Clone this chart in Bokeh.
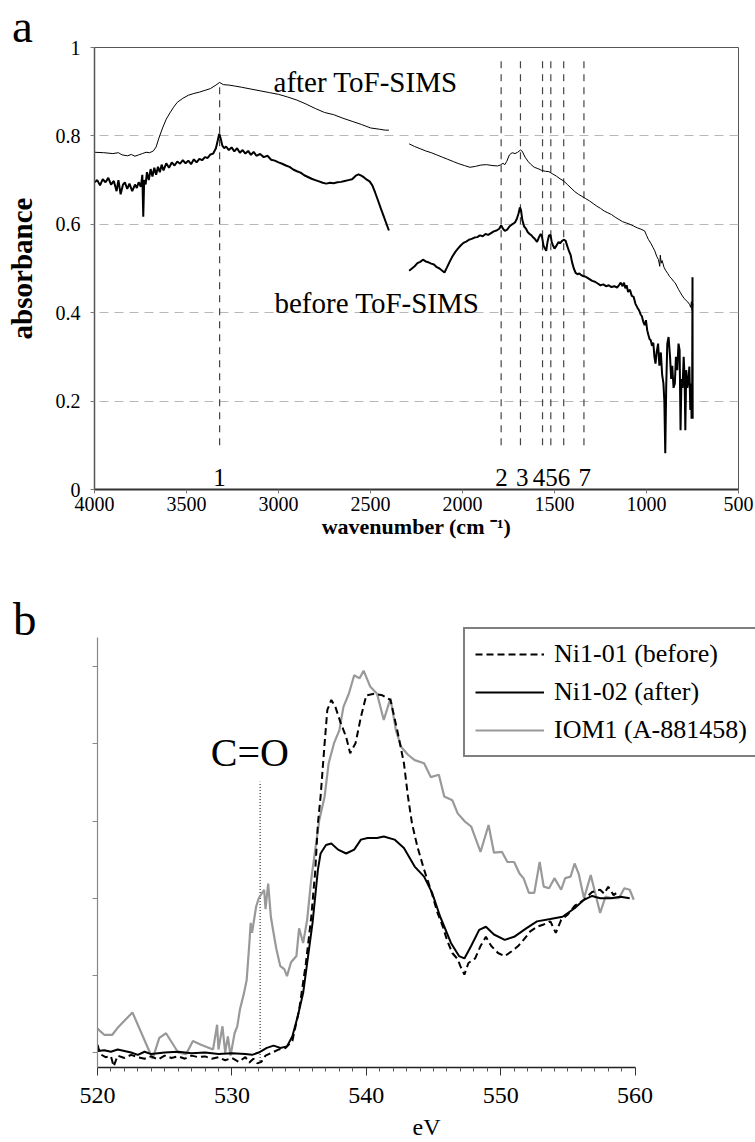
from bokeh.plotting import figure
from bokeh.models import (Range1d, FixedTicker, Label, Legend, LegendItem, Div)
from bokeh.core.properties import value
from bokeh.embed import file_html
from bokeh.resources import INLINE

FONT = "Liberation Serif"

# ---------------- panel a: IR spectra ----------------
after1_wn = [4000, 3950, 3900, 3870, 3850, 3820, 3800, 3780, 3760, 3740, 3720, 3700, 3680, 3665, 3650,
             3630, 3610, 3590, 3570, 3550, 3520, 3490, 3460, 3430, 3400, 3370, 3340, 3320, 3300, 3270,
             3240, 3200, 3150, 3100, 3050, 3000, 2950, 2900, 2850, 2800, 2750, 2700, 2650, 2600, 2550,
             2500, 2450, 2420, 2400]
after1_abs = [0.763, 0.762, 0.760, 0.762, 0.757, 0.755, 0.758, 0.754, 0.757, 0.760, 0.763, 0.762, 0.766,
              0.775, 0.795, 0.818, 0.838, 0.852, 0.865, 0.876, 0.885, 0.892, 0.896, 0.899, 0.903, 0.907,
              0.915, 0.921, 0.916, 0.915, 0.913, 0.910, 0.906, 0.902, 0.898, 0.894, 0.888, 0.881, 0.872,
              0.862, 0.853, 0.848, 0.840, 0.833, 0.826, 0.818, 0.815, 0.813, 0.813]

after2_wn = [2290, 2260, 2230, 2200, 2170, 2140, 2110, 2080, 2050, 2020, 1990, 1960, 1930, 1900, 1870,
             1840, 1810, 1795, 1780, 1770, 1760, 1745, 1730, 1715, 1700, 1685, 1675, 1660, 1645, 1630,
             1610, 1590, 1570, 1550, 1530, 1510, 1490, 1470, 1450, 1430, 1410, 1390, 1370, 1350, 1330,
             1310, 1290, 1270, 1250, 1230, 1210, 1190, 1170, 1150, 1130, 1110, 1090, 1070, 1050, 1030,
             1010, 1000, 990, 975, 965, 955, 945, 935, 928, 925, 920, 915, 905, 895, 885, 875, 865, 855,
             845, 835, 825, 815, 805, 795, 785, 775, 765, 760, 756, 752, 748]
after2_abs = [0.782, 0.776, 0.771, 0.766, 0.762, 0.757, 0.752, 0.747, 0.742, 0.737, 0.733, 0.729, 0.731,
              0.734, 0.735, 0.733, 0.732, 0.734, 0.738, 0.735, 0.742, 0.757, 0.762, 0.760, 0.763, 0.768,
              0.765, 0.752, 0.743, 0.736, 0.729, 0.726, 0.722, 0.720, 0.719, 0.714, 0.709, 0.703, 0.698,
              0.690, 0.682, 0.674, 0.668, 0.663, 0.658, 0.653, 0.647, 0.641, 0.636, 0.630, 0.626, 0.622,
              0.616, 0.611, 0.606, 0.603, 0.600, 0.596, 0.592, 0.589, 0.585, 0.575, 0.566, 0.556, 0.548,
              0.540, 0.528, 0.520, 0.505, 0.530, 0.512, 0.518, 0.503, 0.495, 0.489, 0.482, 0.478, 0.472,
              0.468, 0.460, 0.452, 0.445, 0.438, 0.432, 0.428, 0.424, 0.418, 0.412, 0.425, 0.405, 0.420]

before1_wn = [4000, 3985, 3970, 3955, 3940, 3925, 3910, 3895, 3880, 3870, 3858, 3845, 3835, 3822, 3810,
              3795, 3780, 3770, 3760, 3748, 3740, 3735, 3730, 3722, 3715, 3705, 3695, 3685, 3675, 3665,
              3655, 3645, 3635, 3625, 3610, 3595, 3580, 3565, 3550, 3535, 3520, 3505, 3490, 3475, 3460,
              3445, 3430, 3415, 3400, 3385, 3370, 3355, 3340, 3330, 3322, 3315, 3305, 3295, 3285, 3270,
              3255, 3240, 3225, 3210, 3195, 3180, 3165, 3150, 3135, 3120, 3100, 3080, 3060, 3040, 3020,
              3000, 2980, 2960, 2940, 2920, 2900, 2880, 2860, 2840, 2820, 2800, 2780, 2760, 2740, 2720,
              2700, 2680, 2660, 2640, 2620, 2600, 2580, 2565, 2550, 2535, 2520, 2505, 2490, 2475, 2460,
              2445, 2430, 2415, 2400]
before1_abs = [0.695, 0.700, 0.688, 0.702, 0.695, 0.705, 0.690, 0.698, 0.675, 0.700, 0.668, 0.690, 0.695,
               0.680, 0.692, 0.675, 0.690, 0.682, 0.695, 0.685, 0.712, 0.617, 0.700, 0.690, 0.718, 0.700,
               0.725, 0.708, 0.728, 0.712, 0.730, 0.718, 0.735, 0.722, 0.738, 0.728, 0.740, 0.733, 0.742,
               0.737, 0.745, 0.738, 0.744, 0.736, 0.747, 0.740, 0.748, 0.745, 0.752, 0.750, 0.758, 0.760,
               0.772, 0.790, 0.805, 0.795, 0.778, 0.772, 0.776, 0.768, 0.774, 0.765, 0.772, 0.762, 0.768,
               0.760, 0.766, 0.757, 0.764, 0.755, 0.759, 0.752, 0.755, 0.746, 0.744, 0.740, 0.737, 0.733,
               0.730, 0.724, 0.720, 0.717, 0.711, 0.707, 0.703, 0.700, 0.697, 0.694, 0.692, 0.694, 0.693,
               0.695, 0.696, 0.698, 0.700, 0.702, 0.710, 0.713, 0.710, 0.706, 0.701, 0.697, 0.688, 0.672,
               0.655, 0.637, 0.620, 0.603, 0.586]

before2_wn = [2290, 2275, 2260, 2245, 2230, 2215, 2200, 2185, 2170, 2155, 2140, 2125, 2110, 2098, 2085,
              2070, 2055, 2040, 2025, 2010, 1995, 1980, 1965, 1950, 1935, 1920, 1905, 1890, 1875, 1860,
              1845, 1830, 1815, 1800, 1790, 1780, 1770, 1757, 1745, 1730, 1715, 1705, 1695, 1688, 1682,
              1675, 1665, 1655, 1645, 1635, 1625, 1615, 1605, 1595, 1585, 1575, 1568, 1560, 1552, 1545,
              1538, 1530, 1522, 1515, 1508, 1500, 1492, 1485, 1478, 1470, 1460, 1450, 1440, 1430, 1420,
              1412, 1405, 1395, 1385, 1375, 1365, 1355, 1345, 1335, 1325, 1310, 1295, 1280, 1265, 1250,
              1235, 1220, 1205, 1190, 1175, 1160, 1150, 1140, 1130, 1122, 1115, 1108, 1100, 1090, 1080,
              1070, 1060, 1050, 1040, 1032, 1025, 1018, 1010, 1003, 996, 990, 983, 977, 970, 963, 957,
              951, 945, 937, 930, 922, 915, 908, 903, 898, 893, 887, 880, 872, 866, 860, 853, 846, 840,
              833, 826, 820, 815, 810, 804, 798, 793, 789, 784, 778, 772, 767, 762, 758, 755, 752, 750, 749]
before2_abs = [0.495, 0.500, 0.505, 0.512, 0.515, 0.520, 0.516, 0.514, 0.511, 0.509, 0.503, 0.500, 0.495,
               0.491, 0.502, 0.515, 0.527, 0.537, 0.545, 0.552, 0.558, 0.561, 0.565, 0.567, 0.570, 0.571,
               0.575, 0.573, 0.578, 0.576, 0.580, 0.584, 0.586, 0.590, 0.598, 0.590, 0.585, 0.588, 0.595,
               0.600, 0.604, 0.612, 0.625, 0.638, 0.632, 0.610, 0.595, 0.590, 0.582, 0.578, 0.575, 0.570,
               0.566, 0.560, 0.570, 0.578, 0.572, 0.552, 0.545, 0.540, 0.560, 0.575, 0.576, 0.560, 0.552,
               0.545, 0.550, 0.555, 0.560, 0.557, 0.562, 0.565, 0.563, 0.550, 0.538, 0.530, 0.515, 0.500,
               0.490, 0.487, 0.489, 0.485, 0.483, 0.482, 0.480, 0.476, 0.472, 0.470, 0.466, 0.462, 0.464,
               0.460, 0.462, 0.458, 0.460, 0.457, 0.462, 0.468, 0.460, 0.468, 0.455, 0.462, 0.447, 0.452,
               0.438, 0.436, 0.420, 0.412, 0.405, 0.396, 0.392, 0.380, 0.372, 0.383, 0.360, 0.350, 0.340,
               0.338, 0.325, 0.332, 0.300, 0.285, 0.310, 0.330, 0.280, 0.310, 0.260, 0.240, 0.200, 0.082,
               0.230, 0.330, 0.345, 0.300, 0.250, 0.280, 0.230, 0.240, 0.300, 0.270, 0.330, 0.315, 0.134,
               0.250, 0.230, 0.300, 0.255, 0.134, 0.270, 0.230, 0.250, 0.278, 0.180, 0.240, 0.160, 0.210,
               0.480, 0.160]

peak_wn = [3320, 1790, 1685, 1565, 1520, 1450, 1340]
peak_top = [0.92, 0.975, 0.975, 0.975, 0.975, 0.975, 0.975]
peak_bottom = [0.10, 0.10, 0.10, 0.10, 0.10, 0.10, 0.10]
peak_names = ["1", "2", "3", "456", "7"]
peak_name_wn = [3320, 1788, 1675, 1516, 1335]

a_xticks = [4000, 3500, 3000, 2500, 2000, 1500, 1000, 500]
a_yticks = [0, 0.2, 0.4, 0.6, 0.8, 1]
a_ylabels = ["0", "0.2", "0.4", "0.6", "0.8", "1"]

# ---------------- panel b: XANES ----------------
ni01_ev = [520.0, 520.2, 520.6, 521.0, 521.2, 521.5, 522.0, 522.5, 523.0, 523.5, 524.0, 524.5, 525.0,
           525.5, 526.0, 526.5, 527.0, 527.5, 528.0, 528.5, 529.0, 529.5, 530.0, 530.5, 531.0, 531.3,
           531.6, 531.9, 532.2, 532.5, 533.0, 533.5, 534.0, 534.5, 535.0, 535.5, 535.9, 536.2, 536.4,
           536.6, 536.9, 537.1, 537.4, 537.7, 538.1, 538.5, 538.8, 539.2, 539.6, 540.0, 540.6, 541.2,
           541.8, 542.3, 542.8, 543.1, 543.4, 543.8, 544.3, 544.8, 545.3, 545.7, 546.0, 546.4, 546.8,
           547.0, 547.3, 547.6, 548.1, 548.5, 548.9, 549.3, 549.8, 550.3, 550.8, 551.3, 551.7, 552.2,
           552.7, 553.2, 553.7, 554.1, 554.5, 555.0, 555.5, 556.2, 556.8, 557.4, 557.7, 558.0, 558.4, 558.7]
ni01_int = [0.10, -0.02, -0.06, -0.05, -0.18, -0.04, -0.07, -0.03, -0.06, -0.08, -0.05, -0.09, -0.04,
            -0.07, -0.05, -0.08, -0.04, -0.06, -0.05, -0.08, -0.06, -0.10, -0.07, -0.12, -0.06, -0.13,
            -0.08, -0.14, -0.12, -0.04, 0.00, 0.04, 0.06, 0.15, 0.55, 1.15, 1.75, 2.35, 2.97, 3.32, 4.01,
            4.44, 4.57, 4.48, 4.27, 4.09, 3.88, 4.01, 4.35, 4.63, 4.65, 4.63, 4.57, 4.18, 3.75, 3.32, 2.97,
            2.67, 2.37, 2.11, 1.81, 1.63, 1.46, 1.29, 1.21, 1.12, 1.01, 1.16, 1.22, 1.38, 1.50, 1.38, 1.29,
            1.25, 1.31, 1.38, 1.46, 1.57, 1.63, 1.66, 1.70, 1.55, 1.72, 1.79, 1.90, 1.98, 2.08, 2.11, 2.06,
            2.15, 2.04, 2.08]

ni02_ev = [520.0, 520.5, 521.0, 521.5, 522.0, 522.5, 523.0, 523.5, 524.0, 525.0, 526.0, 527.0, 528.0,
           529.0, 530.0, 531.0, 531.5, 532.0, 532.6, 533.1, 533.6, 534.1, 534.5, 534.9, 535.3, 535.6,
           536.0, 536.4, 536.6, 537.0, 537.4, 537.9, 538.5, 539.1, 539.6, 540.1, 540.8, 541.3, 542.1,
           542.8, 543.6, 544.3, 544.9, 545.5, 546.3, 546.9, 547.3, 547.8, 548.4, 548.9, 549.5, 550.3,
           551.0, 551.9, 552.7, 553.7, 554.6, 555.5, 556.2, 556.8, 557.4, 558.2, 558.9, 559.6]
ni02_int = [0.02, 0.03, 0.01, 0.04, 0.02, 0.00, -0.03, 0.01, -0.02, 0.00, 0.01, -0.01, 0.00, -0.02,
            -0.01, -0.02, -0.03, 0.00, 0.06, 0.09, 0.06, 0.08, 0.21, 0.47, 0.77, 1.16, 1.68, 2.37, 2.58,
            2.69, 2.71, 2.63, 2.58, 2.63, 2.76, 2.78, 2.78, 2.80, 2.76, 2.65, 2.41, 2.28, 2.07, 1.76,
            1.42, 1.25, 1.22, 1.38, 1.59, 1.63, 1.53, 1.46, 1.50, 1.61, 1.70, 1.73, 1.76, 1.87, 1.98,
            2.03, 2.00, 2.00, 2.02, 2.00]

iom_ev = [520.0, 520.5, 521.1, 521.5, 522.6, 524.1, 524.6, 525.1, 526.0, 526.6, 527.1, 527.7, 528.6,
          528.9, 529.0, 529.3, 529.5, 529.7, 529.9, 530.2, 530.4, 530.6, 530.9, 531.1, 531.3, 531.4,
          531.5, 531.8, 532.0, 532.4, 532.5, 532.7, 532.9, 533.1, 533.3, 533.6, 533.9, 534.1, 534.4,
          534.8, 535.0, 535.3, 535.6, 535.9, 536.2, 536.5, 536.9, 537.2, 537.6, 538.0, 538.3, 538.7,
          539.1, 539.5, 539.8, 540.3, 540.8, 541.3, 541.8, 542.2, 542.6, 543.1, 543.6, 544.3, 544.8,
          545.4, 545.8, 546.4, 546.8, 547.3, 547.8, 548.5, 549.1, 549.5, 550.1, 550.5, 551.0, 551.4,
          551.7, 552.1, 552.5, 552.9, 553.2, 553.6, 554.0, 554.5, 554.8, 555.2, 555.5, 555.8, 556.2,
          556.7, 557.1, 557.4, 557.8, 558.3, 558.8, 559.2, 559.6, 559.9]
iom_int = [0.31, 0.23, 0.23, 0.32, 0.52, -0.08, 0.19, 0.25, 0.00, -0.02, 0.15, 0.10, 0.04, 0.36, 0.04,
           0.34, 0.00, 0.21, -0.04, 0.25, 0.34, 0.56, 0.77, 0.94, 1.42, 1.68, 1.55, 1.89, 2.00, 2.11,
           1.86, 2.19, 1.76, 1.55, 1.35, 1.12, 1.08, 0.99, 1.17, 1.25, 1.61, 1.42, 1.72, 2.24, 2.63, 3.01,
           3.32, 3.75, 4.01, 4.18, 4.48, 4.65, 4.89, 4.85, 4.95, 4.74, 4.65, 4.31, 4.59, 4.18, 3.96, 3.86,
           3.79, 3.75, 3.57, 3.60, 3.32, 3.27, 3.10, 3.00, 2.93, 2.60, 2.95, 2.59, 2.60, 2.47, 2.47, 2.32,
           2.26, 2.07, 2.07, 2.47, 2.15, 2.13, 2.26, 2.11, 2.26, 2.28, 2.45, 2.32, 2.00, 2.30, 2.02, 1.81,
           2.02, 2.00, 2.00, 2.13, 2.11, 1.98]

co_ev = [532.1]
co_bottom = [-0.11]
co_top = [3.51]

b_xticks = [520, 530, 540, 550, 560]
b_xminor = [v for v in range(521, 560) if v % 10 != 0]
b_yticks = [0, 1, 2, 3, 4, 5]

legend_names = ["Ni1-01 (before)", "Ni1-02 (after)", "IOM1 (A-881458)"]
panel_letters = ["a", "b"]

# ================= figure a =================
pa = figure(width=755, height=560, output_backend="svg", toolbar_location=None,
            x_range=Range1d(4000, 500), y_range=Range1d(0, 1),
            min_border_left=94, min_border_right=17, min_border_top=47, min_border_bottom=71,
            background_fill_color="white", border_fill_color="white",
            styles={"position": "absolute", "left": "0px", "top": "0px"})
pa.outline_line_color = "#555555"
pa.outline_line_width = 1
pa.xgrid.visible = False
pa.ygrid.ticker = FixedTicker(ticks=[0.2, 0.4, 0.6, 0.8])
pa.ygrid.grid_line_color = "#b8b8b8"
pa.ygrid.grid_line_dash = "9 6"
pa.ygrid.grid_line_width = 1

pa.xaxis.ticker = FixedTicker(ticks=a_xticks, minor_ticks=[])
pa.yaxis.ticker = FixedTicker(ticks=a_yticks, minor_ticks=[])
pa.yaxis.major_label_overrides = {t: s for t, s in zip(a_yticks, a_ylabels)}
for ax in (pa.xaxis[0], pa.yaxis[0]):
    ax.major_label_text_font = FONT
    ax.major_label_text_font_size = "20px"
    ax.major_label_text_color = "black"
    ax.major_tick_out = 4
    ax.major_tick_in = 0
    ax.major_tick_line_color = "#777777"
    ax.minor_tick_line_color = None
    ax.axis_label_text_font = FONT
    ax.axis_label_text_font_style = "bold"
    ax.axis_label_text_color = "black"
pa.xaxis.axis_line_color = "#333333"
pa.xaxis.axis_line_width = 2
pa.yaxis.axis_line_color = "#555555"
pa.yaxis.axis_line_width = 1.5
pa.xaxis.major_label_standoff = 3
pa.yaxis.major_label_standoff = 10
pa.xaxis.axis_label = "wavenumber (cm \u207b\u00b9)"
pa.xaxis.axis_label_text_font_size = "22px"
pa.xaxis.axis_label_standoff = 0
pa.yaxis.axis_label = "absorbance"
pa.yaxis.axis_label_text_font_size = "29px"
pa.yaxis.axis_label_standoff = 15

pa.segment(x0=peak_wn, y0=peak_bottom, x1=peak_wn, y1=peak_top,
           line_color="#444444", line_width=1.2, line_dash="7 6")
pa.line(after1_wn, after1_abs, line_color="black", line_width=1)
pa.line(after2_wn, after2_abs, line_color="black", line_width=1)
pa.line(before1_wn, before1_abs, line_color="black", line_width=2)
pa.line(before2_wn, before2_abs, line_color="black", line_width=2)

pa.text(x=peak_name_wn, y=[0.027] * len(peak_names), text=peak_names,
        text_font=value(FONT), text_font_size="25px", text_align="center",
        text_baseline="alphabetic", text_color="black")

pa.add_layout(Label(x=3027, y=0.923, text="after ToF-SIMS", text_font=FONT, text_color="black",
                    text_font_size="29px", text_baseline="alphabetic", text_align="left"))
pa.add_layout(Label(x=3022, y=0.423, text="before ToF-SIMS", text_font=FONT, text_color="black",
                    text_font_size="29px", text_baseline="alphabetic", text_align="left"))

# ================= figure b =================
pb = figure(width=755, height=582, output_backend="svg", toolbar_location=None,
            x_range=Range1d(520, 568.96), y_range=Range1d(-0.194, 5.60),
            min_border_left=97, min_border_right=0, min_border_top=60, min_border_bottom=74,
            background_fill_color="white", border_fill_color="white",
            styles={"position": "absolute", "left": "0px", "top": "560px"})
pb.outline_line_color = None
pb.xgrid.visible = False
pb.ygrid.visible = False

pb.xaxis.ticker = FixedTicker(ticks=b_xticks, minor_ticks=b_xminor)
pb.xaxis.bounds = (520, 560)
pb.xaxis.axis_line_color = "#222222"
pb.xaxis.axis_line_width = 1.5
pb.xaxis.major_tick_line_color = "#333333"
pb.xaxis.minor_tick_line_color = "#555555"
pb.xaxis.major_tick_out = 8
pb.xaxis.major_tick_in = 0
pb.xaxis.minor_tick_out = 4
pb.xaxis.minor_tick_in = 0
pb.xaxis.major_label_text_font = FONT
pb.xaxis.major_label_text_font_size = "24px"
pb.xaxis.major_label_text_color = "black"
pb.xaxis.major_label_standoff = 12
pb.xaxis.axis_label = "eV"
pb.xaxis.axis_label_text_font = FONT
pb.xaxis.axis_label_text_font_size = "24px"
pb.xaxis.axis_label_text_font_style = "normal"
pb.xaxis.axis_label_text_color = "black"
pb.xaxis.axis_label_standoff = 8

pb.yaxis.ticker = FixedTicker(ticks=b_yticks, minor_ticks=[])
pb.yaxis.bounds = (-0.194, 5.38)
pb.yaxis.axis_line_color = "#888888"
pb.yaxis.axis_line_width = 1.2
pb.yaxis.major_tick_line_color = "#888888"
pb.yaxis.major_tick_out = 5
pb.yaxis.major_tick_in = 0
pb.yaxis.minor_tick_line_color = None
pb.yaxis.major_label_text_color = None
pb.yaxis.major_label_text_font_size = "1px"

pb.segment(x0=co_ev, y0=co_bottom, x1=co_ev, y1=co_top,
           line_color="black", line_width=1, line_dash="1 2")

r_iom = pb.line(iom_ev, iom_int, line_color="#999999", line_width=2.2)
r_ni02 = pb.line(ni02_ev, ni02_int, line_color="black", line_width=2)
r_ni01 = pb.line(ni01_ev, ni01_int, line_color="black", line_width=2, line_dash="7 4")

legend = Legend(items=[LegendItem(label=legend_names[0], renderers=[r_ni01]),
                       LegendItem(label=legend_names[1], renderers=[r_ni02]),
                       LegendItem(label=legend_names[2], renderers=[r_iom])],
                location=(366, 310), orientation="vertical")
legend.label_text_font = FONT
legend.label_text_font_size = "26px"
legend.label_text_color = "black"
legend.label_standoff = 10
legend.label_height = 26
legend.glyph_width = 69
legend.glyph_height = 26
legend.spacing = 8
legend.padding = 10
legend.margin = 0
legend.border_line_color = "black"
legend.border_line_width = 2
legend.background_fill_color = "white"
legend.background_fill_alpha = 1
pb.add_layout(legend, "center")

pb.add_layout(Label(x=531.33, y=3.89, text="C=O", text_font=FONT, text_font_size="40px",
                    text_color="black", text_align="center", text_baseline="middle"))

letter_style = {"position": "absolute", "font-family": FONT, "font-size": "47px",
                "line-height": "52px", "color": "black", "margin": "0px", "padding": "0px"}
div_a = Div(text=panel_letters[0], styles=dict(letter_style, left="12px", top="0px"))
div_b = Div(text=panel_letters[1], styles=dict(letter_style, left="13px", top="593px"))

open("out.html", "w").write(file_html([pa, pb, div_a, div_b], INLINE))
